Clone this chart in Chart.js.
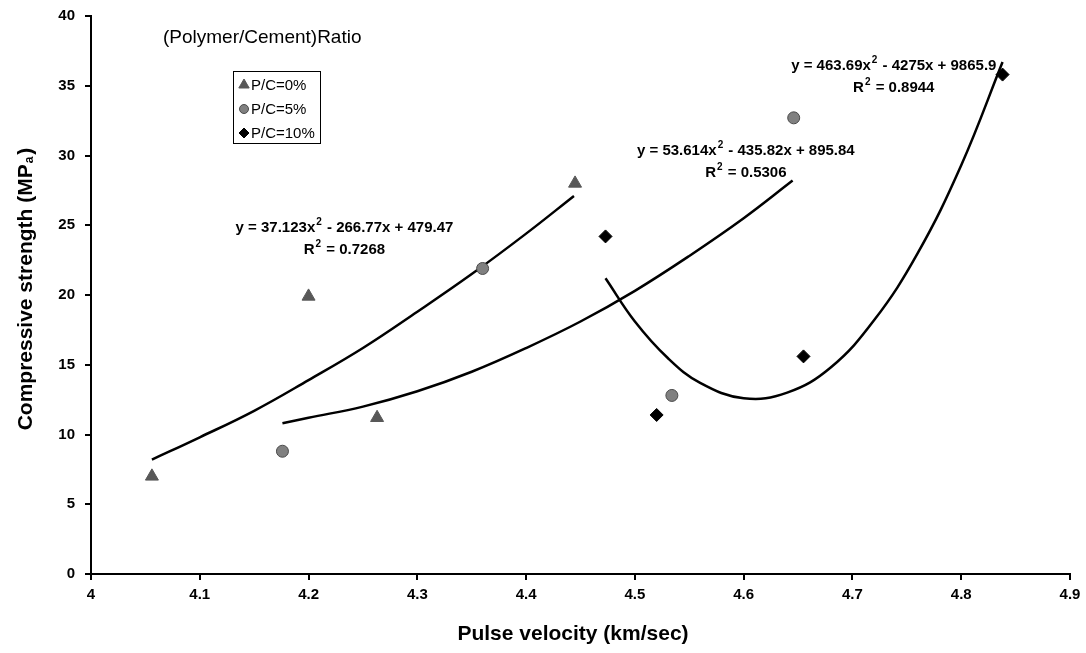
<!DOCTYPE html>
<html>
<head>
<meta charset="utf-8">
<script src="https://cdn.jsdelivr.net/npm/chart.js@4"></script>
<style>
  body { margin: 0; background: #fff; }
</style>
</head>
<body>
<canvas id="myChart" width="1086" height="653"></canvas>
<script>
const pc0_x = [4.056, 4.2, 4.263, 4.445];
const pc0_y = [7.0, 19.9, 11.2, 28.0];
const pc5_x = [4.176, 4.36, 4.534, 4.646];
const pc5_y = [8.8, 21.9, 12.8, 32.7];
const pc10_x = [4.473, 4.52, 4.655, 4.838];
const pc10_y = [24.2, 11.4, 15.6, 35.8];

// trend curves
const fit0_x = [4.056, 4.1, 4.15, 4.2, 4.25, 4.3, 4.35, 4.4, 4.444];
const fit0_y = [8.2, 9.8, 11.7, 13.9, 16.2, 18.8, 21.5, 24.4, 27.1];
const fit5_x = [4.176, 4.2, 4.25, 4.3, 4.35, 4.4, 4.45, 4.5, 4.55, 4.6, 4.645];
const fit5_y = [10.8, 11.2, 12.0, 13.1, 14.5, 16.2, 18.1, 20.3, 22.8, 25.5, 28.2];
const fit10_x = [4.473, 4.5, 4.53, 4.56, 4.6, 4.64, 4.68, 4.72, 4.76, 4.8, 4.838];
const fit10_y = [21.2, 18.1, 15.5, 13.7, 12.6, 13.0, 14.8, 18.2, 23.0, 29.3, 36.7];

const seriesNames = ["P/C=0%", "P/C=5%", "P/C=10%"];
const equations = [
  ["y = 37.123x", " - 266.77x + 479.47", "0.7268"],
  ["y = 53.614x", " - 435.82x + 895.84", "0.5306"],
  ["y = 463.69x", " - 4275x + 9865.9", "0.8944"],
];
const xTickVals = [4, 4.1, 4.2, 4.3, 4.4, 4.5, 4.6, 4.7, 4.8, 4.9];
const xTickLabels = ["4", "4.1", "4.2", "4.3", "4.4", "4.5", "4.6", "4.7", "4.8", "4.9"];

const pts = (xs, ys) => xs.map((x, i) => ({ x: x, y: ys[i] }));

const FONT = "'Liberation Sans', Arial, sans-serif";

// where the equation labels sit (data units)
const eqPos = [
  { x: 4.233, y: 24.8 },
  { x: 4.602, y: 30.3 },
  { x: 4.738, y: 36.4 },
];

const curveStyle = {
  showLine: true,
  pointRadius: 0,
  borderColor: "#000",
  borderWidth: 2.5,
  tension: 0.4,
  fill: false,
};

const eqFont = "bold 15px " + FONT;
const supFont = "bold 10px " + FONT;

const extras = {
  id: "extras",
  afterDraw(chart) {
    const ctx = chart.ctx;
    const xs = chart.scales.x;
    const ys = chart.scales.y;
    ctx.save();
    ctx.fillStyle = "#000";
    ctx.textBaseline = "middle";

    // equations
    equations.forEach((eq, i) => {
      const cx = xs.getPixelForValue(eqPos[i].x);
      const cy = ys.getPixelForValue(eqPos[i].y);
      ctx.font = eqFont;
      const w1 = ctx.measureText(eq[0]).width;
      ctx.font = supFont;
      const w2 = ctx.measureText("2").width + 2;
      ctx.font = eqFont;
      const w3 = ctx.measureText(eq[1]).width;
      let x0 = cx - (w1 + w2 + w3) / 2;
      ctx.textAlign = "left";
      ctx.fillText(eq[0], x0, cy);
      ctx.font = supFont;
      ctx.fillText("2", x0 + w1 + 1, cy - 6);
      ctx.font = eqFont;
      ctx.fillText(eq[1], x0 + w1 + w2, cy);

      const r1 = "R";
      const r3 = " = " + eq[2];
      const a = ctx.measureText(r1).width;
      const c = ctx.measureText(r3).width;
      x0 = cx - (a + w2 + c) / 2;
      const ry = cy + 22;
      ctx.fillText(r1, x0, ry);
      ctx.font = supFont;
      ctx.fillText("2", x0 + a + 1, ry - 6);
      ctx.font = eqFont;
      ctx.fillText(r3, x0 + a + w2, ry);
    });

    // title inside plot
    ctx.font = "19px " + FONT;
    ctx.textAlign = "left";
    ctx.fillText("(Polymer/Cement)Ratio", 163, 38);

    // legend box
    ctx.strokeStyle = "#000";
    ctx.lineWidth = 1;
    ctx.strokeRect(233.5, 71.5, 87, 72);
    ctx.font = "15px " + FONT;
    const ds = chart.data.datasets;
    [0, 1, 2].forEach((i) => {
      const ly = 85 + i * 24;
      const d = ds[i];
      ctx.save();
      ctx.fillStyle = d.backgroundColor;
      ctx.strokeStyle = d.borderColor;
      Chart.helpers.drawPoint(ctx, {
        pointStyle: d.pointStyle,
        radius: d.pointRadius - 1.5,
        borderWidth: d.borderWidth,
        rotation: 0,
      }, 244, ly);
      ctx.restore();
      ctx.fillText(seriesNames[i], 251, ly + 1);
    });

    // axis titles
    ctx.font = "bold 21px " + FONT;
    ctx.textAlign = "center";
    ctx.fillText("Pulse velocity (km/sec)", 573, 634);

    ctx.translate(26, 289);
    ctx.rotate(-Math.PI / 2);
    ctx.textAlign = "left";
    const p1 = "Compressive strength (MP";
    const p2 = "a";
    const p3 = ")";
    ctx.font = "bold 21px " + FONT;
    const wa = ctx.measureText(p1).width;
    const wc = ctx.measureText(p3).width;
    ctx.font = "bold 12px " + FONT;
    const wb = ctx.measureText(p2).width + 3;
    let sx = -(wa + wb + wc) / 2;
    ctx.font = "bold 21px " + FONT;
    ctx.fillText(p1, sx, 0);
    ctx.font = "bold 12px " + FONT;
    ctx.fillText(p2, sx + wa + 1, 4);
    ctx.font = "bold 21px " + FONT;
    ctx.fillText(p3, sx + wa + wb, 0);
    ctx.restore();
  },
};

chart = new Chart("myChart", {
  type: "scatter",
  data: {
    datasets: [
      {
        label: seriesNames[0],
        data: pts(pc0_x, pc0_y),
        pointStyle: "triangle",
        pointRadius: 7.5,
        backgroundColor: "#585858",
        borderColor: "#585858",
        borderWidth: 1,
      },
      {
        label: seriesNames[1],
        data: pts(pc5_x, pc5_y),
        pointStyle: "circle",
        pointRadius: 6,
        backgroundColor: "#808080",
        borderColor: "#4a4a4a",
        borderWidth: 1,
      },
      {
        label: seriesNames[2],
        data: pts(pc10_x, pc10_y),
        pointStyle: "rectRot",
        pointRadius: 6.5,
        backgroundColor: "#000",
        borderColor: "#000",
        borderWidth: 1,
      },
      Object.assign({ label: "fit0", data: pts(fit0_x, fit0_y) }, curveStyle),
      Object.assign({ label: "fit5", data: pts(fit5_x, fit5_y) }, curveStyle),
      Object.assign({ label: "fit10", data: pts(fit10_x, fit10_y) }, curveStyle),
    ],
  },
  options: {
    responsive: false,
    animation: false,
    devicePixelRatio: 1,
    layout: { padding: { left: 0, top: 16, right: 16, bottom: 0 } },
    plugins: {
      legend: { display: false },
      tooltip: { enabled: false },
    },
    scales: {
      x: {
        type: "linear",
        min: 4,
        max: 4.9,
        afterBuildTicks: (s) => {
          s.ticks = xTickVals.map((v) => ({ value: v }));
        },
        afterFit: (s) => {
          s.height = 79;
          s.paddingLeft = 0;
          s.paddingRight = 0;
        },
        grid: {
          drawOnChartArea: false,
          drawTicks: true,
          tickLength: 6,
          color: "#000",
          lineWidth: 2,
        },
        border: { color: "#000", width: 2 },
        ticks: {
          color: "#000",
          font: { family: FONT, size: 15, weight: "bold" },
          padding: 6,
          maxRotation: 0,
          autoSkip: false,
          callback: (v, i) => xTickLabels[i],
        },
      },
      y: {
        min: 0,
        max: 40,
        afterFit: (s) => {
          s.width = 91;
          s.paddingTop = 0;
          s.paddingBottom = 0;
        },
        grid: {
          drawOnChartArea: false,
          drawTicks: true,
          tickLength: 6,
          color: "#000",
          lineWidth: 2,
        },
        border: { color: "#000", width: 2 },
        ticks: {
          stepSize: 5,
          color: "#000",
          font: { family: FONT, size: 15, weight: "bold" },
          padding: 10,
        },
      },
    },
  },
  plugins: [extras],
});
</script>
</body>
</html>
